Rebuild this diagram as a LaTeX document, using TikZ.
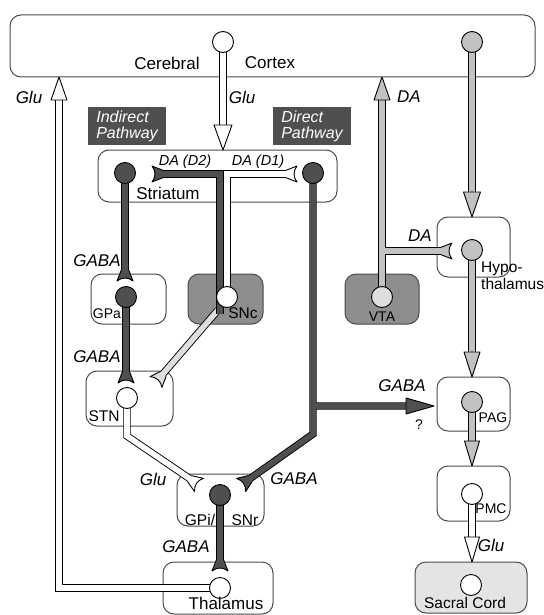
\documentclass[tikz,border=0pt]{standalone}
\usepackage{fontspec}
\setmainfont{Liberation Sans}
\usetikzlibrary{calc}

\definecolor{darkax}{HTML}{4F4F4F}
\definecolor{grayax}{HTML}{C2C2C2}
\definecolor{lightax}{HTML}{DEDEDE}
\definecolor{regfill}{HTML}{8E8E8E}
\definecolor{cordfill}{HTML}{E4E4E4}
\definecolor{boxline}{HTML}{4A4A4A}

\pgfdeclarelayer{boxes}
\pgfdeclarelayer{axons}
\pgfsetlayers{boxes,axons,main}

\tikzset{
  region/.style={draw=boxline, line width=1pt, rounded corners=11pt, fill=white, inner sep=0pt},
  pathbox/.style={fill=darkax, text=white, align=left, inner sep=0pt,
    minimum width=78pt, minimum height=38pt, font=\fontsize{16}{16}\selectfont\itshape},
  neuron/.style={circle, draw=black, line width=0.9pt, minimum size=21pt, inner sep=0pt},
  axon/.style={draw=black, line width=0.9pt, double=#1, double distance=5.6pt},
  lab/.style={inner sep=0pt, font=\fontsize{17}{19}\selectfont\itshape},
  smlab/.style={inner sep=0pt, font=\fontsize{14.5}{16}\selectfont\itshape},
  txt/.style={inner sep=0pt, font=\fontsize{17}{19}\selectfont},
  midtxt/.style={inner sep=0pt, font=\fontsize{15.5}{17}\selectfont},
  smtxt/.style={inner sep=0pt, font=\fontsize{14}{16}\selectfont}
}

% arrow head: fill, tip, rotation, half width, length
\newcommand{\arrhead}[5]{\filldraw[fill=#1, draw=black, line width=0.9pt, line join=round,
  shift={#2}, rotate=#3] (0,0) -- (-#4,-#5) -- (#4,-#5) -- cycle;}
% synapse terminal: fill, base point, rotation
\newcommand{\synterm}[3]{%
  \begin{scope}[shift={#2}, rotate=#3]
    \fill[#1] (-3.7,-11) -- (-8,0) .. controls (-3,-4) and (3,-4) .. (8,0) -- (3.7,-11) -- cycle;
    \draw[line width=0.9pt, line join=round] (-3.7,-11) -- (-8,0) .. controls (-3,-4) and (3,-4) .. (8,0) -- (3.7,-11);
  \end{scope}}

\begin{document}
\begin{tikzpicture}[x=1pt, y=-1pt]
\useasboundingbox (0,0) rectangle (543,615);

% Regions
\begin{pgfonlayer}{boxes}
\node[region, minimum width=525pt, minimum height=62pt] (cortex) at (272.5,46) {};
\node[region, minimum width=239pt, minimum height=52pt] (striatum) at (217.5,176) {};
\node[region, minimum width=75pt, minimum height=50pt] (gpa) at (128.5,299) {};
\node[region, fill=regfill, minimum width=75pt, minimum height=50pt] (snc) at (225.5,299) {};
\node[region, minimum width=87pt, minimum height=55pt] (stn) at (129.5,398.5) {};
\node[region, minimum width=87pt, minimum height=52pt] (gpi) at (220.5,500) {};
\node[region, minimum width=110pt, minimum height=52pt] (thal) at (218,588) {};
\node[region, fill=regfill, minimum width=74pt, minimum height=50pt] (vta) at (382,299) {};
\node[region, minimum width=73pt, minimum height=60pt] (hypo) at (473.5,247) {};
\node[region, minimum width=73pt, minimum height=54pt] (pag) at (473.5,404) {};
\node[region, minimum width=73pt, minimum height=55pt] (pmc) at (473.5,493.5) {};
\node[region, fill=cordfill, minimum width=112pt, minimum height=51pt] (sacral) at (471,587.5) {};
\end{pgfonlayer}

\node[pathbox] (indirect) at (127,126) {Indirect\\Pathway};
\node[pathbox] (direct) at (312,126) {Direct\\Pathway};

% Neurons
\node[neuron, fill=white] (ctxA) at (223,42) {};
\node[neuron, fill=grayax] (ctxB) at (472,42) {};
\node[neuron, fill=darkax] (strL) at (125,173) {};
\node[neuron, fill=darkax] (strR) at (313,173) {};
\node[neuron, fill=darkax] (gpaN) at (126,297) {};
\node[neuron, fill=white] (sncN) at (227,297) {};
\node[neuron, fill=white] (stnN) at (127,398) {};
\node[neuron, fill=darkax] (gpiN) at (220,495) {};
\node[neuron, fill=white] (thN) at (220,588) {};
\node[neuron, fill=lightax] (vtaN) at (382,297) {};
\node[neuron, fill=grayax] (hypN) at (472,250) {};
\node[neuron, fill=grayax] (pagN) at (472,402) {};
\node[neuron, fill=white] (pmcN) at (472,494) {};
\node[neuron, fill=white] (scN) at (471,585) {};

% Tips, terminals and bends
\coordinate (tGlu) at (223,150);
\coordinate (tCtxL) at (59,77);
\coordinate (tCtxV) at (382,77);
\coordinate (tHyp) at (472,217);
\coordinate (tPag) at (472,377);
\coordinate (tPmc) at (472,466);
\coordinate (tSac) at (472,562);
\coordinate (tPagD) at (434,406);
\coordinate (sGpa) at (125,281);
\coordinate (sStn) at (126,383);
\coordinate (sD2) at (152,174);
\coordinate (sD1) at (297,174);
\coordinate (sSncStn) at (156,382);
\coordinate (sGpiG) at (199,485);
\coordinate (sGpiD) at (241,485);
\coordinate (sThal) at (220,571);
\coordinate (sDA) at (452,251);
\coordinate (bStn) at (127,436);
\coordinate (bDir) at (313,434);
\coordinate (bPag) at (313,406);
\coordinate (bDA) at (382,251);
\coordinate (bD2) at (220,174);
\coordinate (bD1) at (227,174);
\coordinate (sncD) at (220,314);
\coordinate (sncOut) at (218,310);

% Axons
\begin{pgfonlayer}{axons}
\draw[axon=white, shorten >=24pt] (ctxA.center) -- (tGlu);
\draw[axon=grayax, shorten >=24pt] (ctxB.center) -- (tHyp);
\draw[axon=white, shorten >=22pt] (thN.center) -| (tCtxL);
\draw[axon=grayax, shorten >=22pt] (bDA) -- ($(sDA)+(-10,0)$) (vtaN.center) -- (tCtxV);
\draw[axon=darkax, shorten >=10pt] (strL.center) -- (sGpa);
\draw[axon=darkax, shorten >=10pt] (gpaN.center) -- (sStn);
\draw[axon=lightax, shorten >=10pt] (sncOut) -- (sSncStn);
\draw[axon=darkax, shorten >=10pt] (sncD) -- (bD2) -- (sD2);
\draw[axon=white, shorten >=10pt] (sncN.center) -- (bD1) -- (sD1);
\draw[axon=white, shorten >=10pt] (stnN.center) -- (bStn) -- (sGpiG);
\draw[axon=darkax, shorten >=10pt] (bPag) -- ($(tPagD)+(-27,0)$) (strR.center) -- (bDir) -- (sGpiD);
\draw[axon=darkax, shorten >=10pt] (gpiN.center) -- (sThal);
\draw[axon=grayax, shorten >=24pt] (hypN.center) -- (tPag);
\draw[axon=grayax, shorten >=24pt] (pagN.center) -- (tPmc);
\draw[axon=white, shorten >=24pt] (pmcN.center) -- (tSac);
\end{pgfonlayer}

\arrhead{white}{(tGlu)}{0}{9}{25}
\arrhead{grayax}{(tHyp)}{0}{8.5}{25}
\arrhead{white}{(tCtxL)}{180}{8}{23}
\arrhead{grayax}{(tCtxV)}{180}{8}{23}
\arrhead{grayax}{(tPag)}{0}{8}{25}
\arrhead{grayax}{(tPmc)}{0}{7.5}{25}
\arrhead{white}{(tSac)}{0}{7.5}{25}
\arrhead{darkax}{(tPagD)}{90}{8}{28}

\synterm{darkax}{(sGpa)}{0}
\synterm{darkax}{(sStn)}{0}
\synterm{darkax}{(sD2)}{-90}
\synterm{white}{(sD1)}{90}
\synterm{lightax}{(sSncStn)}{-42}
\synterm{white}{(sGpiG)}{56}
\synterm{darkax}{(sGpiD)}{-55}
\synterm{darkax}{(sThal)}{0}
\synterm{grayax}{(sDA)}{90}

% Texts
\node[txt] (xCer) at (167,63) {Cerebral};
\node[txt] (xCtx) at (270,63) {Cortex};
\node[lab] (xGluL) at (29,97) {Glu};
\node[lab] (xGluC) at (242,97) {Glu};
\node[lab] (xDAc) at (409,97) {DA};
\node[smlab] (xD2) at (185,162) {DA (D2)};
\node[smlab] (xD1) at (258,162) {DA (D1)};
\node[txt] (xStr) at (168,193) {Striatum};
\node[lab] (xGaba1) at (97,261) {GABA};
\node[lab] (xGaba2) at (97,357) {GABA};
\node[smtxt] (xGpa) at (107,314) {GPa};
\node[midtxt] (xSnc) at (243,313) {SNc};
\node[midtxt] (xStn) at (104,416) {STN};
\node[lab] (xGluS) at (153,479) {Glu};
\node[lab] (xGaba3) at (294,479) {GABA};
\node[midtxt] (xGpi) at (200,520) {GPi/};
\node[midtxt] (xSnr) at (245,520) {SNr};
\node[lab] (xGaba4) at (186,547) {GABA};
\node[txt] (xThal) at (226,603) {Thalamus};
\node[smtxt] (xVta) at (382,317) {VTA};
\node[lab] (xDAh) at (420,236) {DA};
\node[midtxt, anchor=west] (xHyp1) at (481,269) {Hypo-};
\node[midtxt, anchor=west] (xHyp2) at (481,284) {thalamus};
\node[lab] (xGaba5) at (402,386) {GABA};
\node[smtxt] (xQ) at (419,425) {?};
\node[smtxt] (xPag) at (493,418) {PAG};
\node[smtxt] (xPmc) at (491,509) {PMC};
\node[lab] (xGluP) at (491,545) {Glu};
\node[midtxt] (xSac) at (465,603) {Sacral Cord};

\end{tikzpicture}
\end{document}
